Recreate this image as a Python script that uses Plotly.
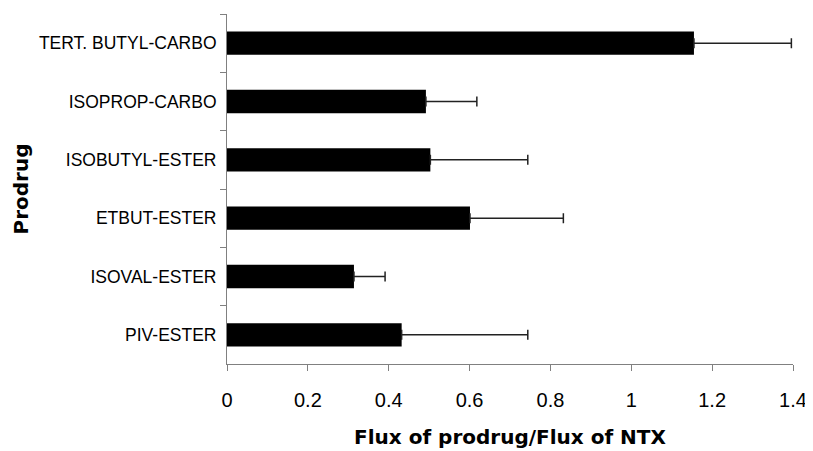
import plotly.graph_objects as go

categories = ["TERT. BUTYL-CARBO", "ISOPROP-CARBO", "ISOBUTYL-ESTER",
              "ETBUT-ESTER", "ISOVAL-ESTER", "PIV-ESTER"]
flux_ratio = [1.155, 0.492, 0.503, 0.601, 0.314, 0.432]
error_plus = [0.241, 0.126, 0.241, 0.231, 0.077, 0.312]
x_ticks = [0, 0.2, 0.4, 0.6, 0.8, 1, 1.2, 1.4]
x_ticklabels = ["0", "0.2", "0.4", "0.6", "0.8", "1", "1.2", "1.4"]

FONT = "Liberation Sans, Arial, sans-serif"
TITLE_FONT = "DejaVu Sans, Verdana, sans-serif"

fig = go.Figure(go.Bar(
    x=flux_ratio, y=categories, orientation="h",
    marker=dict(color="black", line=dict(width=0)),
    width=0.4,
    error_x=dict(type="data", array=error_plus, symmetric=False,
                 arrayminus=[0] * len(error_plus),
                 color="#222222", thickness=1.5, width=5),
))

# page body has an 8px margin, so the figure is 8px smaller than the window
fig.update_layout(
    width=805, height=443,
    margin=dict(l=219, r=18, t=6, b=87),
    paper_bgcolor="white", plot_bgcolor="white",
    showlegend=False,
    font=dict(family=FONT, color="black"),
    xaxis=dict(
        range=[0, 1.4], tickvals=x_ticks, ticktext=x_ticklabels,
        showgrid=False, zeroline=False,
        showline=True, linecolor="#808080", linewidth=1,
        ticks="outside", ticklen=6, tickcolor="#808080",
        tickfont=dict(size=20, family=FONT),
        ticklabelstandoff=12,
        title=dict(text="<b>Flux of prodrug/Flux of NTX</b>",
                   font=dict(size=20, family=TITLE_FONT), standoff=19),
    ),
    yaxis=dict(
        autorange="reversed", type="category",
        showgrid=False, zeroline=False,
        showline=True, linecolor="#808080", linewidth=1,
        ticks="outside", ticklen=6, tickcolor="#808080", tickson="boundaries",
        tickfont=dict(size=17.5, family=FONT),
        ticklabelstandoff=6,
        title=dict(text="<b>Prodrug</b>",
                   font=dict(size=20, family=TITLE_FONT),
                   standoff=4),
    ),
)

fig.write_html("out.html")
